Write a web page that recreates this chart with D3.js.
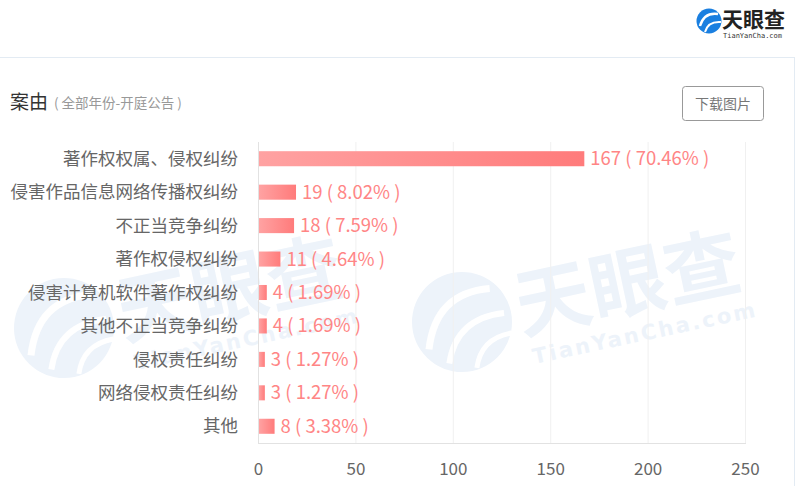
<!DOCTYPE html>
<html>
<head>
<meta charset="utf-8">
<script src="https://cdn.jsdelivr.net/npm/d3@7/dist/d3.min.js"></script>
<style>
  html, body { margin: 0; padding: 0; background: #fff; }
  svg { display: block; font-family: "Noto Sans CJK SC", "Noto Sans", sans-serif; }
</style>
</head>
<body>
<svg id="chart" width="808" height="486"></svg>
<script>
// Case-cause counts (all years, court hearing notices)
const categories = [
  "著作权权属、侵权纠纷",
  "侵害作品信息网络传播权纠纷",
  "不正当竞争纠纷",
  "著作权侵权纠纷",
  "侵害计算机软件著作权纠纷",
  "其他不正当竞争纠纷",
  "侵权责任纠纷",
  "网络侵权责任纠纷",
  "其他"
];
const counts = [167, 19, 18, 11, 4, 4, 3, 3, 8];
const xTicks = [0, 50, 100, 150, 200, 250];

const svg = d3.select("#chart");
const total = d3.sum(counts);

const x = d3.scaleLinear().domain([0, 250]).range([258, 745]);
const y = d3.scaleBand().domain(categories).range([142, 443])
  .paddingInner(0.55).paddingOuter(0.275);

// ---- background watermark (brand mark, repeated) ----
const defs = svg.append("defs");
function watermark(g) {
  const c = "#edf3fa";
  g.append("circle").attr("cx", 0).attr("cy", 0).attr("r", 50).attr("fill", c);
  // white swirl strokes inside the disc
  g.append("path").attr("d", "M-38,20 Q-20,-34 34,-27").attr("fill", "none")
    .attr("stroke", "#fff").attr("stroke-width", 7);
  g.append("path").attr("d", "M-21,38 Q-5,-5 43,0").attr("fill", "none")
    .attr("stroke", "#fff").attr("stroke-width", 6);
  g.append("path").attr("d", "M5,48 Q15,20 46,21").attr("fill", "none")
    .attr("stroke", "#fff").attr("stroke-width", 5);
  g.append("text").attr("x", 56).attr("y", 24).attr("font-size", 76)
    .attr("font-weight", 700).attr("fill", c).text("天眼查");
  g.append("text").attr("x", 62).attr("y", 56).attr("font-size", 21)
    .attr("font-weight", 700).attr("letter-spacing", 2.5)
    .attr("font-family", "'DejaVu Sans', sans-serif").attr("fill", c).text("TianYanCha.com");
}
const wm = svg.append("g").attr("class", "watermark");
watermark(wm.append("g").attr("transform", "translate(462,322) rotate(-12)"));
watermark(wm.append("g").attr("transform", "translate(64,328) rotate(-12)"));

// ---- panel frame ----
svg.append("line").attr("x1", 0).attr("x2", 794).attr("y1", 57.5).attr("y2", 57.5)
  .attr("stroke", "#e3ebf3");
svg.append("line").attr("x1", 794.5).attr("x2", 794.5).attr("y1", 57).attr("y2", 486)
  .attr("stroke", "#e3ebf3");

// ---- top-right brand logo ----
const logo = svg.append("g").attr("transform", "translate(709,21)");
logo.append("circle").attr("r", 12.5).attr("fill", "#1a7fe0");
logo.append("path").attr("d", "M-9,5 Q-5,-9 9,-7").attr("fill", "none")
  .attr("stroke", "#fff").attr("stroke-width", 2.4);
logo.append("path").attr("d", "M-4,11 Q-1,0 12,1").attr("fill", "none")
  .attr("stroke", "#fff").attr("stroke-width", 2);
logo.append("text").attr("x", 13).attr("y", 6).attr("font-size", 21)
  .attr("font-weight", 700).attr("fill", "#222").text("天眼查");
logo.append("text").attr("x", 14).attr("y", 17).attr("font-size", 7)
  .attr("font-family", "'DejaVu Sans Mono', monospace").attr("fill", "#333")
  .text("TianYanCha.com");

// ---- title ----
svg.append("text").attr("x", 10).attr("y", 109).attr("font-size", 19)
  .attr("fill", "#333").text("案由");
svg.append("text").attr("x", 54).attr("y", 108).attr("font-size", 13.5)
  .attr("fill", "#999").text("( 全部年份-开庭公告 )");

// ---- download button ----
svg.append("rect").attr("x", 682.5).attr("y", 86.5).attr("width", 81).attr("height", 34)
  .attr("rx", 3).attr("fill", "#fff").attr("stroke", "#999");
svg.append("text").attr("x", 723).attr("y", 109).attr("text-anchor", "middle")
  .attr("font-size", 14).attr("fill", "#777").text("下载图片");

// ---- grid + axes ----
svg.append("g").selectAll("line").data(xTicks.slice(1)).join("line")
  .attr("x1", d => x(d) + 0.5).attr("x2", d => x(d) + 0.5)
  .attr("y1", 142).attr("y2", 443).attr("stroke", "#f0f0f0");
svg.append("line").attr("x1", x(0) + 0.5).attr("x2", x(0) + 0.5)
  .attr("y1", 142).attr("y2", 443).attr("stroke", "#e2e2e2");
svg.append("line").attr("x1", x(0)).attr("x2", x(250) + 1)
  .attr("y1", 443.5).attr("y2", 443.5).attr("stroke", "#e2e2e2");

const xAxis = svg.append("g").attr("transform", "translate(0,443)")
  .call(d3.axisBottom(x).tickValues(xTicks).tickSize(0).tickPadding(0));
xAxis.select(".domain").remove();
xAxis.selectAll("text").attr("y", 32).attr("dy", 0).attr("font-size", 17)
  .attr("fill", "#666").attr("font-family", "'Noto Sans CJK SC', sans-serif");

// ---- bars ----
const grad = defs.append("linearGradient").attr("id", "barGrad")
  .attr("x1", 0).attr("x2", 1).attr("y1", 0).attr("y2", 0);
grad.append("stop").attr("offset", 0).attr("stop-color", "#ffa2a2");
grad.append("stop").attr("offset", 1).attr("stop-color", "#ff7b7b");

svg.append("g").selectAll("rect").data(counts).join("rect")
  .attr("x", x(0) + 1)
  .attr("y", (d, i) => y(categories[i]))
  .attr("width", d => x(d) - x(0))
  .attr("height", y.bandwidth())
  .attr("fill", "url(#barGrad)");

// ---- category labels ----
svg.append("g").selectAll("text").data(categories).join("text")
  .attr("x", 238).attr("y", d => y(d) + y.bandwidth() / 2)
  .attr("dy", "0.35em").attr("text-anchor", "end")
  .attr("font-size", 17.5).attr("fill", "#666").text(d => d);

// ---- value labels ----
svg.append("g").selectAll("text").data(counts).join("text")
  .attr("x", d => x(d) + 7)
  .attr("y", (d, i) => y(categories[i]) + y.bandwidth() / 2)
  .attr("dy", "0.35em").attr("font-size", 18.5).attr("fill", "#ff8585")
  .text(d => `${d} ( ${(d / total * 100).toFixed(2)}% )`);
</script>
</body>
</html>
